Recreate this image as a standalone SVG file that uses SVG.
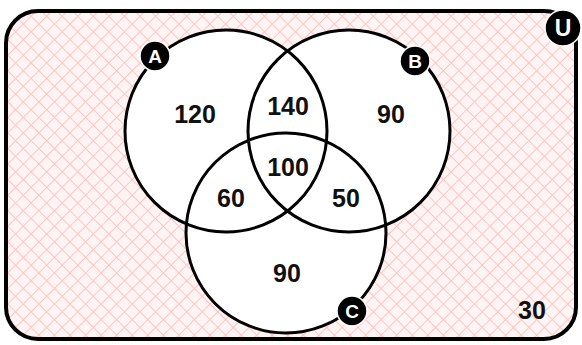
<svg xmlns="http://www.w3.org/2000/svg" width="582" height="345" viewBox="0 0 582 345">
<style>
.num{font-family:"Liberation Sans",Arial,sans-serif;font-weight:bold;font-size:25px;fill:#111;text-anchor:middle}
.lbl{font-family:"Liberation Sans",Arial,sans-serif;font-weight:bold;font-size:19px;fill:#fff;text-anchor:middle}
.set{fill:#fff;stroke:none}
.edge{fill:none;stroke:#000;stroke-width:3}
.badge{fill:#000;stroke:#fff;stroke-width:1.5}
</style>
<defs>
<pattern id="hatch" width="11" height="11" patternUnits="userSpaceOnUse" patternTransform="rotate(45)">
<rect width="11" height="11" fill="#fff4f4"/>
<path d="M0 0H11M0 0V11" stroke="#ffc4c4" stroke-width="2"/>
</pattern>
</defs>
<g id="universe">
<rect x="6" y="11" width="570" height="328" rx="32" fill="url(#hatch)" stroke="#000" stroke-width="4"/>
</g>
<g id="fills">
<circle class="set" cx="226" cy="131" r="101"/>
<circle class="set" cx="349" cy="131" r="101"/>
<circle class="set" cx="286" cy="233" r="100"/>
</g>
<g id="setA"><circle class="edge" cx="226" cy="131" r="101"/></g>
<g id="setB"><circle class="edge" cx="349" cy="131" r="101"/></g>
<g id="setC"><circle class="edge" cx="286" cy="233" r="100"/></g>
<g id="badges">
<g id="badgeA"><circle class="badge" cx="155" cy="56" r="15"/><text class="lbl" x="155" y="63">A</text></g>
<g id="badgeB"><circle class="badge" cx="415" cy="61" r="15"/><text class="lbl" x="415" y="68">B</text></g>
<g id="badgeC"><circle class="badge" cx="352" cy="311" r="15"/><text class="lbl" x="352" y="318">C</text></g>
<g id="badgeU"><circle class="badge" cx="563" cy="28" r="18"/><text class="lbl" x="563" y="36" style="font-size:23px">U</text></g>
</g>
<g id="numbers">
<text class="num" x="195" y="123">120</text>
<text class="num" x="288" y="115">140</text>
<text class="num" x="391" y="123">90</text>
<text class="num" x="288" y="176">100</text>
<text class="num" x="231" y="207">60</text>
<text class="num" x="346" y="207">50</text>
<text class="num" x="287" y="282">90</text>
<text class="num" x="532" y="319">30</text>
</g>
</svg>
